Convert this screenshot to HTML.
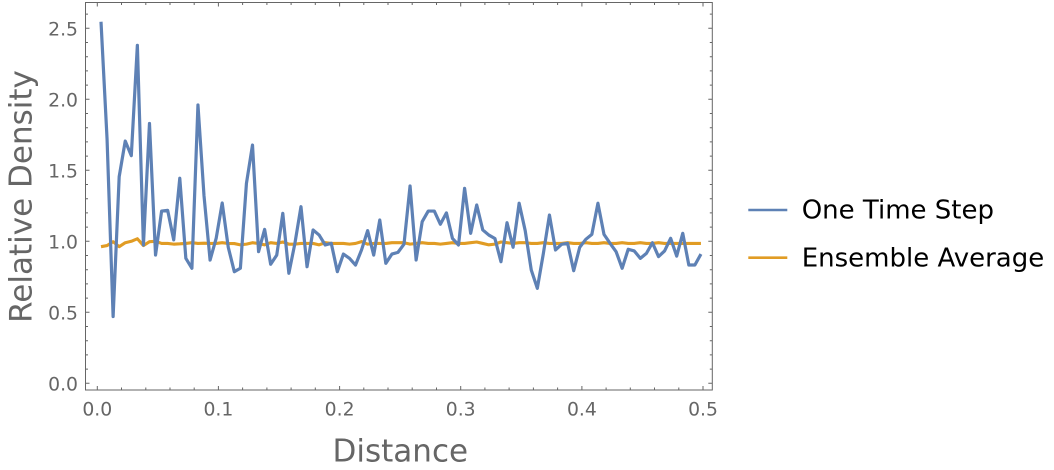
<!DOCTYPE html>
<html>
<head>
<meta charset="utf-8">
<style>
  html, body { margin:0; padding:0; background:#fff; }
  svg { display:block; }
  text { font-family: "DejaVu Sans", "Liberation Sans", sans-serif; }
</style>
</head>
<body>
<svg width="1054" height="470" viewBox="0 0 1054 470" xmlns="http://www.w3.org/2000/svg">
  <rect x="0" y="0" width="1054" height="470" fill="#fff"/>

  <!-- Series -->
  <g transform="translate(101,383.3) scale(6.06,-142)">
    <polyline fill="none" stroke="#E19C24" stroke-width="3.1" stroke-linejoin="round" vector-effect="non-scaling-stroke"
      points="0,0.962 1,0.97 2,0.997 3,0.962 4,0.99 5,1.0 6,1.018 7,0.97 8,0.997 9,1.0 10,0.985 11,0.985 12,0.98 13,0.982 14,0.985 15,0.99 16,0.985 17,0.987 18,0.985 19,0.985 20,0.99 21,0.985 22,0.984 23,0.975 24,0.98 25,0.99 26,0.985 27,0.975 28,0.99 29,0.985 30,0.995 31,0.98 32,0.98 33,0.985 34,0.985 35,0.985 36,0.975 37,0.99 38,0.985 39,0.985 40,0.985 41,0.98 42,0.985 43,0.998 44,0.98 45,0.985 46,0.985 47,0.985 48,0.99 49,0.99 50,0.99 51,0.98 52,0.985 53,0.99 54,0.985 55,0.985 56,0.98 57,0.985 58,0.99 59,0.985 60,0.985 61,0.99 62,0.995 63,0.985 64,0.975 65,0.98 66,0.995 67,0.99 68,0.985 69,0.99 70,0.99 71,0.985 72,0.985 73,0.99 74,0.985 75,0.985 76,0.985 77,0.99 78,0.985 79,0.985 80,0.99 81,0.985 82,0.985 83,0.99 84,0.985 85,0.985 86,0.99 87,0.985 88,0.985 89,0.99 90,0.985 91,0.985 92,0.99 93,0.985 94,0.985 95,0.985 96,0.985 97,0.985 98,0.985 99,0.985"/>
    <polyline fill="none" stroke="#5E81B5" stroke-width="3.2" stroke-linejoin="round" vector-effect="non-scaling-stroke"
      points="0,2.546 1,1.72 2,0.47 3,1.455 4,1.706 5,1.603 6,2.38 7,0.974 8,1.83 9,0.903 10,1.213 11,1.218 12,1.01 13,1.444 14,0.88 15,0.81 16,1.96 17,1.32 18,0.868 19,1.02 20,1.27 21,0.958 22,0.786 23,0.81 24,1.408 25,1.678 26,0.927 27,1.084 28,0.838 29,0.903 30,1.197 31,0.775 32,0.986 33,1.244 34,0.821 35,1.08 36,1.044 37,0.974 38,0.986 39,0.786 40,0.91 41,0.88 42,0.833 43,0.94 44,1.075 45,0.903 46,1.15 47,0.845 48,0.91 49,0.922 50,0.98 51,1.39 52,0.868 53,1.138 54,1.213 55,1.213 56,1.12 57,1.2 58,1.02 59,0.974 60,1.373 61,1.056 62,1.256 63,1.08 64,1.044 65,1.02 66,0.856 67,1.131 68,0.958 69,1.268 70,1.075 71,0.798 72,0.669 73,0.915 74,1.185 75,0.939 76,0.979 77,0.986 78,0.793 79,0.958 80,1.014 81,1.049 82,1.268 83,1.049 84,0.986 85,0.927 86,0.81 87,0.944 88,0.932 89,0.88 90,0.915 91,0.99 92,0.892 93,0.932 94,1.021 95,0.896 96,1.056 97,0.833 98,0.833 99,0.91"/>
  </g>

  <!-- Frame -->
  <rect x="85.5" y="2.5" width="626.8" height="387.5" fill="none" stroke="#666" stroke-width="1"/>

  <!-- Ticks -->
  <g stroke="#666" stroke-width="1" fill="none">
    <path d="M85.5,383.3h4 M85.5,312.3h4 M85.5,241.3h4 M85.5,170.3h4 M85.5,99.3h4 M85.5,28.3h4
             M712.3,383.3h-4 M712.3,312.3h-4 M712.3,241.3h-4 M712.3,170.3h-4 M712.3,99.3h-4 M712.3,28.3h-4"/>
    <path d="M85.5,369.1h2.5 M85.5,354.9h2.5 M85.5,340.7h2.5 M85.5,326.5h2.5
             M85.5,298.1h2.5 M85.5,283.9h2.5 M85.5,269.7h2.5 M85.5,255.5h2.5
             M85.5,227.1h2.5 M85.5,212.9h2.5 M85.5,198.7h2.5 M85.5,184.5h2.5
             M85.5,156.1h2.5 M85.5,141.9h2.5 M85.5,127.7h2.5 M85.5,113.5h2.5
             M85.5,85.1h2.5 M85.5,70.9h2.5 M85.5,56.7h2.5 M85.5,42.5h2.5 M85.5,14.1h2.5
             M712.3,369.1h-2.5 M712.3,354.9h-2.5 M712.3,340.7h-2.5 M712.3,326.5h-2.5
             M712.3,298.1h-2.5 M712.3,283.9h-2.5 M712.3,269.7h-2.5 M712.3,255.5h-2.5
             M712.3,227.1h-2.5 M712.3,212.9h-2.5 M712.3,198.7h-2.5 M712.3,184.5h-2.5
             M712.3,156.1h-2.5 M712.3,141.9h-2.5 M712.3,127.7h-2.5 M712.3,113.5h-2.5
             M712.3,85.1h-2.5 M712.3,70.9h-2.5 M712.3,56.7h-2.5 M712.3,42.5h-2.5 M712.3,14.1h-2.5"/>
    <path d="M97.3,390v-4 M218.4,390v-4 M339.6,390v-4 M460.7,390v-4 M581.9,390v-4 M703,390v-4
             M97.3,2.5v4 M218.4,2.5v4 M339.6,2.5v4 M460.7,2.5v4 M581.9,2.5v4 M703,2.5v4"/>
    <path d="M121.5,390v-2.5 M145.8,390v-2.5 M170,390v-2.5 M194.2,390v-2.5
             M242.6,390v-2.5 M266.9,390v-2.5 M291.1,390v-2.5 M315.3,390v-2.5
             M363.8,390v-2.5 M388,390v-2.5 M412.2,390v-2.5 M436.5,390v-2.5
             M484.9,390v-2.5 M509.1,390v-2.5 M533.4,390v-2.5 M557.6,390v-2.5
             M606.1,390v-2.5 M630.3,390v-2.5 M654.5,390v-2.5 M678.8,390v-2.5
             M121.5,2.5v2.5 M145.8,2.5v2.5 M170,2.5v2.5 M194.2,2.5v2.5
             M242.6,2.5v2.5 M266.9,2.5v2.5 M291.1,2.5v2.5 M315.3,2.5v2.5
             M363.8,2.5v2.5 M388,2.5v2.5 M412.2,2.5v2.5 M436.5,2.5v2.5
             M484.9,2.5v2.5 M509.1,2.5v2.5 M533.4,2.5v2.5 M557.6,2.5v2.5
             M606.1,2.5v2.5 M630.3,2.5v2.5 M654.5,2.5v2.5 M678.8,2.5v2.5"/>
  </g>

  <!-- Tick labels -->
  <g fill="#666" font-size="18.8" text-anchor="end">
    <text x="78" y="390.3">0.0</text>
    <text x="78" y="319.3">0.5</text>
    <text x="78" y="248.3">1.0</text>
    <text x="78" y="177.3">1.5</text>
    <text x="78" y="106.3">2.0</text>
    <text x="78" y="35.3">2.5</text>
  </g>
  <g fill="#666" font-size="18.8" text-anchor="middle">
    <text x="97.3" y="415.5">0.0</text>
    <text x="218.4" y="415.5">0.1</text>
    <text x="339.6" y="415.5">0.2</text>
    <text x="460.7" y="415.5">0.3</text>
    <text x="581.9" y="415.5">0.4</text>
    <text x="703" y="415.5">0.5</text>
  </g>

  <!-- Axis labels -->
  <text x="400.3" y="461.5" fill="#666" font-size="31" text-anchor="middle">Distance</text>
  <text transform="translate(31.5,196.5) rotate(-90)" fill="#666" font-size="31" text-anchor="middle">Relative Density</text>

  <!-- Legend -->
  <line x1="748.3" y1="210" x2="787.3" y2="210" stroke="#5E81B5" stroke-width="2.6"/>
  <line x1="748.3" y1="257.7" x2="787.3" y2="257.7" stroke="#E19C24" stroke-width="2.6"/>
  <text x="801.7" y="218.5" fill="#000" font-size="26">One Time Step</text>
  <text x="801.7" y="266.7" fill="#000" font-size="26">Ensemble Average</text>
</svg>
</body>
</html>
